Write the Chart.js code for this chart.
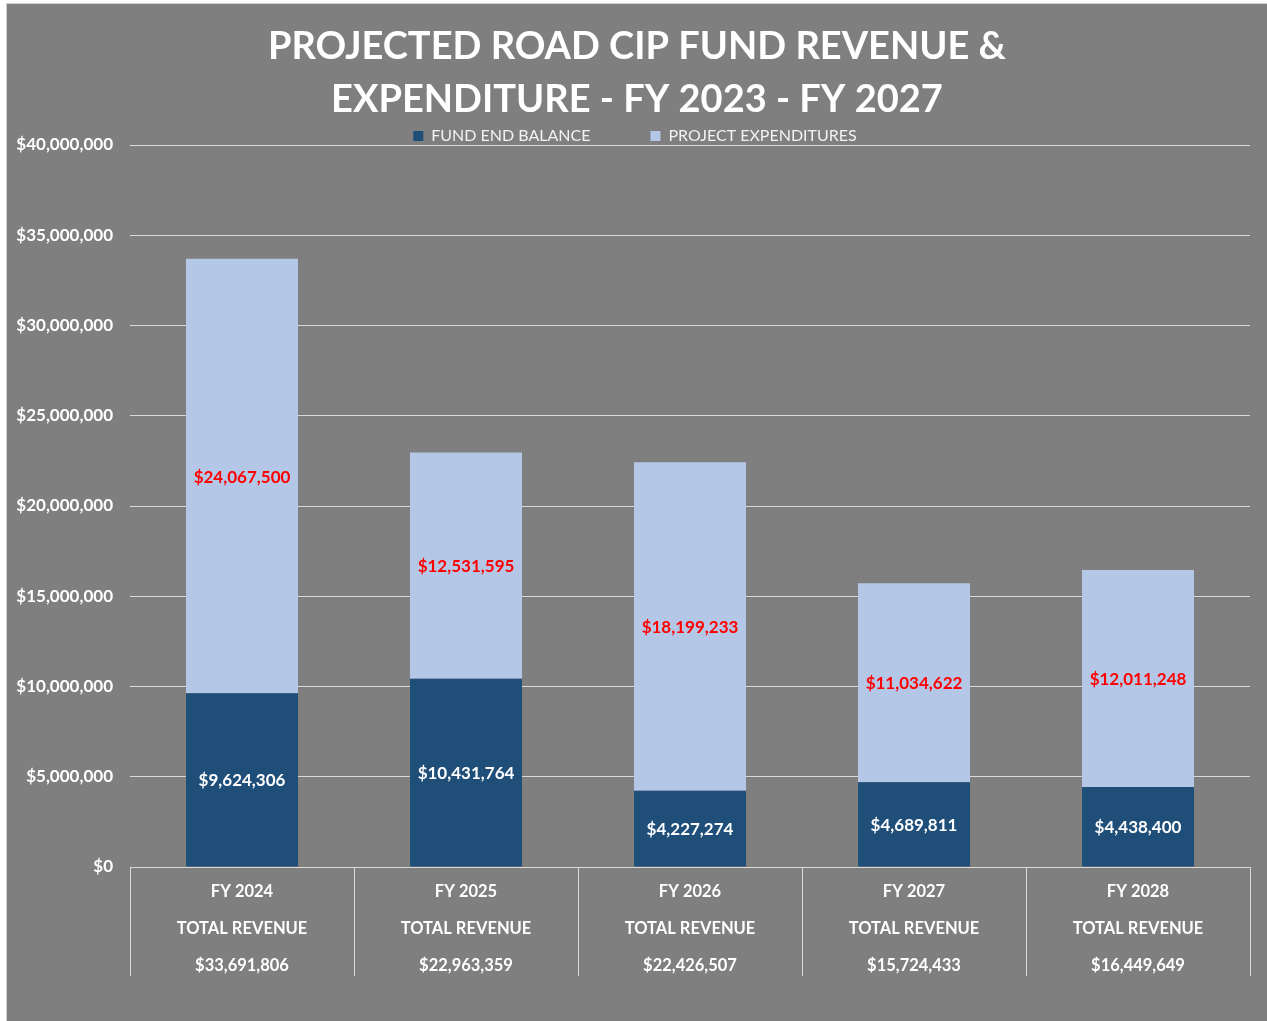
<!DOCTYPE html>
<html><head><meta charset="utf-8">
<script src="https://cdn.jsdelivr.net/npm/chart.js@4.4.1/dist/chart.umd.min.js"></script>
<style>
html,body{margin:0;padding:0;background:#fff;overflow:hidden;width:1267px;height:1021px;}
#wrap{position:absolute;left:6px;top:3px;border-left:1px solid #D0D0D0;border-top:1px solid #D0D0D0;background:#7F7F7F;}
canvas{display:block;}
</style></head><body>
<div id="wrap"><canvas id="c" width="1260" height="1020"></canvas></div>
<script>
const titleLines = ['PROJECTED ROAD CIP FUND REVENUE &', 'EXPENDITURE - FY 2023 - FY 2027'];
const categories = ['FY 2024', 'FY 2025', 'FY 2026', 'FY 2027', 'FY 2028'];
const totalRevenue = [33691806, 22963359, 22426507, 15724433, 16449649];
const fundEndBalance = [9624306, 10431764, 4227274, 4689811, 4438400];
const projectExpenditures = [24067500, 12531595, 18199233, 11034622, 12011248];
const seriesNames = ['FUND END BALANCE', 'PROJECT EXPENDITURES'];
const yMin = 0, yMax = 40000000, yStep = 5000000;

const FONT = 'Lato';
const money = v => '$' + Math.round(v).toLocaleString('en-US');
const labelColors = ['#FFFFFF', '#FF0000'];

const barLabels = {
  id: 'barLabels',
  afterDatasetsDraw(chart) {
    const ctx = chart.ctx;
    chart.data.datasets.forEach((ds, di) => {
      const meta = chart.getDatasetMeta(di);
      meta.data.forEach((bar, i) => {
        const p = bar.getCenterPoint();
        ctx.save();
        ctx.font = 'bold 17px ' + FONT;
        ctx.fillStyle = labelColors[di];
        ctx.textAlign = 'center';
        ctx.textBaseline = 'middle';
        ctx.fillText(money(ds.data[i]), p.x, p.y + 1);
        ctx.restore();
      });
    });
  }
};

// re-centre the title and legend over the full canvas width
const centreHeader = {
  id: 'centreHeader',
  afterLayout(chart) {
    if (chart.titleBlock) { chart.titleBlock.left += 12; }
    if (chart.legend) { chart.legend.left += 8; }
  }
};

function draw() {
  Chart.defaults.font.family = FONT;
  new Chart(document.getElementById('c'), {
    type: 'bar',
    data: {
      labels: categories.map((c, i) => [c, 'TOTAL REVENUE', money(totalRevenue[i])]),
      datasets: [
        { label: seriesNames[0], data: fundEndBalance, backgroundColor: '#1F4E79', borderWidth: 0, stack: 's' },
        { label: seriesNames[1], data: projectExpenditures, backgroundColor: '#B4C7E7', borderWidth: 0, stack: 's' }
      ]
    },
    options: {
      responsive: false,
      animation: false,
      devicePixelRatio: 1,
      layout: { padding: { left: 5, right: 17, top: 0, bottom: 0 } },
      datasets: { bar: { categoryPercentage: 1, barPercentage: 0.5 } },
      plugins: {
        title: {
          display: true,
          text: titleLines,
          color: '#FFFFFF',
          font: { size: 38, weight: 'bold', lineHeight: '53px' },
          padding: { top: 16, bottom: -58 }
        },
        legend: {
          display: true,
          position: 'top',
          maxHeight: 77,
          labels: {
            color: '#F2F2F2',
            font: { size: 16 },
            boxWidth: 10,
            boxHeight: 10,
            padding: 60
          }
        },
        tooltip: { enabled: false }
      },
      scales: {
        x: {
          stacked: true,
          grid: { display: true, drawOnChartArea: false, drawTicks: true, tickLength: 109, color: '#D9D9D9', lineWidth: 1, offset: true },
          border: { display: true, color: '#D9D9D9' },
          ticks: { color: '#FFFFFF', font: { size: 16.5, weight: 'bold', lineHeight: '37px' }, padding: -103, autoSkip: false, maxRotation: 0 },
          afterFit: s => { s.height = 157; }
        },
        y: {
          stacked: true,
          min: yMin, max: yMax,
          grid: { color: '#D9D9D9', lineWidth: 1, drawTicks: false },
          border: { display: false },
          ticks: { stepSize: yStep, color: '#FFFFFF', font: { size: 17, weight: 'bold' }, padding: 17, callback: v => money(v) },
          afterFit: s => { s.width = 118; }
        }
      }
    },
    plugins: [barLabels, centreHeader]
  });
}

Promise.all([
  document.fonts.load('bold 38px ' + FONT),
  document.fonts.load('bold 16px ' + FONT),
  document.fonts.load('16px ' + FONT)
]).then(draw, draw);
</script>
</body></html>
